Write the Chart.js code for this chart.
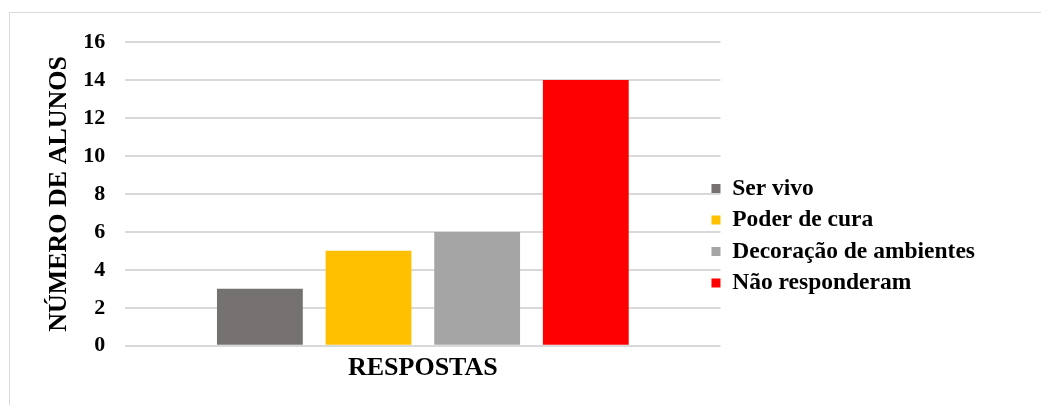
<!DOCTYPE html>
<html lang="pt">
<head>
<meta charset="UTF-8">
<title>Respostas</title>
<script src="https://cdn.jsdelivr.net/npm/chart.js"></script>
<style>
    body { margin: 0; background: #fff; }
    .frame { position: absolute; left: 9px; top: 12px; width: 1100px; height: 450px; border: 1px solid #d9d9d9; }
    .wrap { position: absolute; left: 0; top: 0; width: 1041px; height: 405px; }
</style>
</head>
<body>
<div class="frame"></div>
<div class="wrap"><canvas id="chart"></canvas></div>
<script>
// data
const categories = ['RESPOSTAS'];
const seriesNames = ['Ser vivo', 'Poder de cura', 'Decoração de ambientes', 'Não responderam'];
const seriesValues = [[3], [5], [6], [14]];
const seriesColors = ['#767171', '#FFC000', '#A5A5A5', '#FF0000'];

const serif = 'Liberation Serif, Times New Roman, serif';

const datasets = seriesNames.map((name, i) => ({
    label: name,
    data: seriesValues[i],
    backgroundColor: seriesColors[i],
    borderWidth: 0,
    barPercentage: 0.79,
    categoryPercentage: 0.73
}));

// legend in the original sits slightly over the gridline ends
const nudgeLegend = {
    id: 'nudgeLegend',
    afterLayout(chart) {
        chart.legend.left -= 17;
        chart.legend.right -= 17;
    }
};

new Chart(document.getElementById('chart'), {
    type: 'bar',
    data: { labels: categories, datasets: datasets },
    plugins: [nudgeLegend],
    options: {
        responsive: true,
        maintainAspectRatio: false,
        animation: false,
        layout: { padding: { top: 42, left: 44, right: 39, bottom: 14 } },
        plugins: {
            tooltip: { enabled: false },
            legend: {
                position: 'right',
                maxWidth: 400,
                // blank title only pushes the legend block down a bit
                title: { display: true, text: ' ', font: { size: 2 }, padding: { top: 36, bottom: 0 } },
                labels: {
                    boxWidth: 9, boxHeight: 9, padding: 8,
                    color: '#000',
                    font: { family: serif, size: 23.5, weight: 'bold' }
                }
            }
        },
        scales: {
            x: {
                grid: { display: false, drawTicks: false },
                border: { display: false },
                ticks: { color: '#000', font: { family: serif, size: 26, weight: 'bold' }, padding: 7 }
            },
            y: {
                min: 0, max: 16,
                ticks: { stepSize: 2, color: '#000', padding: 20, font: { family: serif, size: 22, weight: 'bold' } },
                grid: { color: '#d9d9d9', lineWidth: 2, drawTicks: false },
                border: { display: false },
                title: {
                    display: true, text: 'NÚMERO DE ALUNOS', color: '#000',
                    font: { family: serif, size: 26, weight: 'bold' }, padding: { top: 0, bottom: -12 }
                }
            }
        }
    }
});
</script>
</body>
</html>
